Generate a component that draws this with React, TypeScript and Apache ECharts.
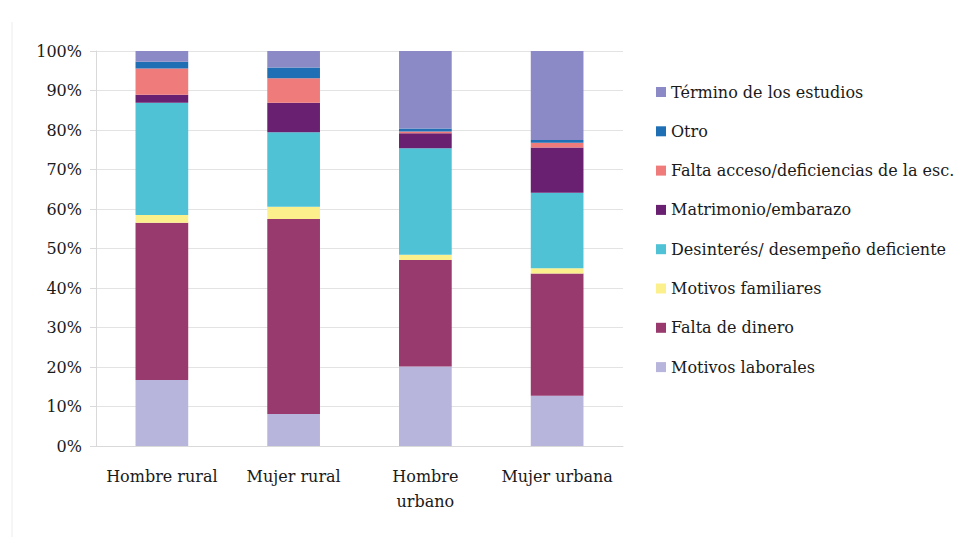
import React, { useEffect, useRef } from "react";
import * as echarts from "echarts";

const categories = ["Hombre rural", "Mujer rural", "Hombre urbano", "Mujer urbana"];
const yTicks = ["0%", "10%", "20%", "30%", "40%", "50%", "60%", "70%", "80%", "90%", "100%"];

const motivosLaborales = [16.7, 8.1, 20.1, 12.7];
const faltaDinero = [39.8, 49.4, 27.0, 31.0];
const motivosFamiliares = [2.0, 3.1, 1.3, 1.3];
const desinteres = [28.4, 18.8, 27.0, 19.1];
const matrimonio = [2.0, 7.5, 3.8, 11.5];
const faltaAcceso = [6.7, 6.2, 0.4, 1.2];
const otro = [1.7, 2.7, 0.8, 0.7];
const terminoEstudios = [2.7, 4.2, 19.6, 22.5];

const seriesDefs = [
  { name: "Motivos laborales", data: motivosLaborales, color: "#b8b5dc" },
  { name: "Falta de dinero", data: faltaDinero, color: "#993a6e" },
  { name: "Motivos familiares", data: motivosFamiliares, color: "#fbf08c" },
  { name: "Desinterés/ desempeño deficiente", data: desinteres, color: "#4fc2d6" },
  { name: "Matrimonio/embarazo", data: matrimonio, color: "#6a2070" },
  { name: "Falta acceso/deficiencias de la esc.", data: faltaAcceso, color: "#ef7b7b" },
  { name: "Otro", data: otro, color: "#1f6fb4" },
  { name: "Término de los estudios", data: terminoEstudios, color: "#8c8ac6" },
];

const FONT = "DejaVu Serif";
const TEXT = "#1a1a1a";

export default function App() {
  const ref = useRef<HTMLDivElement>(null);
  useEffect(() => {
    if (!ref.current) return;
    const chart = echarts.init(ref.current, undefined, { renderer: "svg" });
    chart.setOption({
      animation: false,
      backgroundColor: "#ffffff",
      textStyle: { fontFamily: FONT },
      grid: { left: 96, right: 351, top: 51, bottom: 91 },
      legend: {
        orient: "vertical",
        left: 651,
        top: 78,
        icon: "rect",
        itemWidth: 10,
        itemHeight: 10,
        itemGap: 21.3,
        data: seriesDefs.map((s) => s.name).reverse(),
        textStyle: { fontFamily: FONT, fontSize: 16, color: TEXT, lineHeight: 18 },
      },
      xAxis: {
        type: "category",
        data: categories,
        axisLine: { lineStyle: { color: "#d9d9d9" } },
        axisTick: { show: false },
        axisLabel: {
          color: TEXT,
          fontFamily: FONT,
          fontSize: 16,
          lineHeight: 25,
          margin: 18,
          interval: 0,
          formatter: (v: string) => (v === "Hombre urbano" ? "Hombre\nurbano" : v),
        },
      },
      yAxis: {
        type: "value",
        min: 0,
        max: 100,
        interval: 10,
        axisLine: { show: true, lineStyle: { color: "#d9d9d9" } },
        axisTick: { show: true, length: 6, lineStyle: { color: "#d9d9d9" } },
        splitLine: { lineStyle: { color: "#e3e3e3" } },
        axisLabel: {
          color: TEXT,
          fontFamily: FONT,
          fontSize: 16,
          margin: 14,
          formatter: (v: number) => yTicks[Math.round(v / 10)],
        },
      },
      series: seriesDefs.map((s) => ({
        name: s.name,
        type: "bar",
        stack: "total",
        barWidth: "40%",
        data: s.data,
        itemStyle: { color: s.color },
      })),
      graphic: [
        {
          type: "line",
          shape: { x1: 12, y1: 22, x2: 12, y2: 537 },
          style: { stroke: "#ececec", lineWidth: 1 },
        },
      ],
    });
    return () => chart.dispose();
  }, []);
  return <div ref={ref} style={{ width: 974, height: 537, position: "fixed", left: 0, top: 0 }} />;
}
